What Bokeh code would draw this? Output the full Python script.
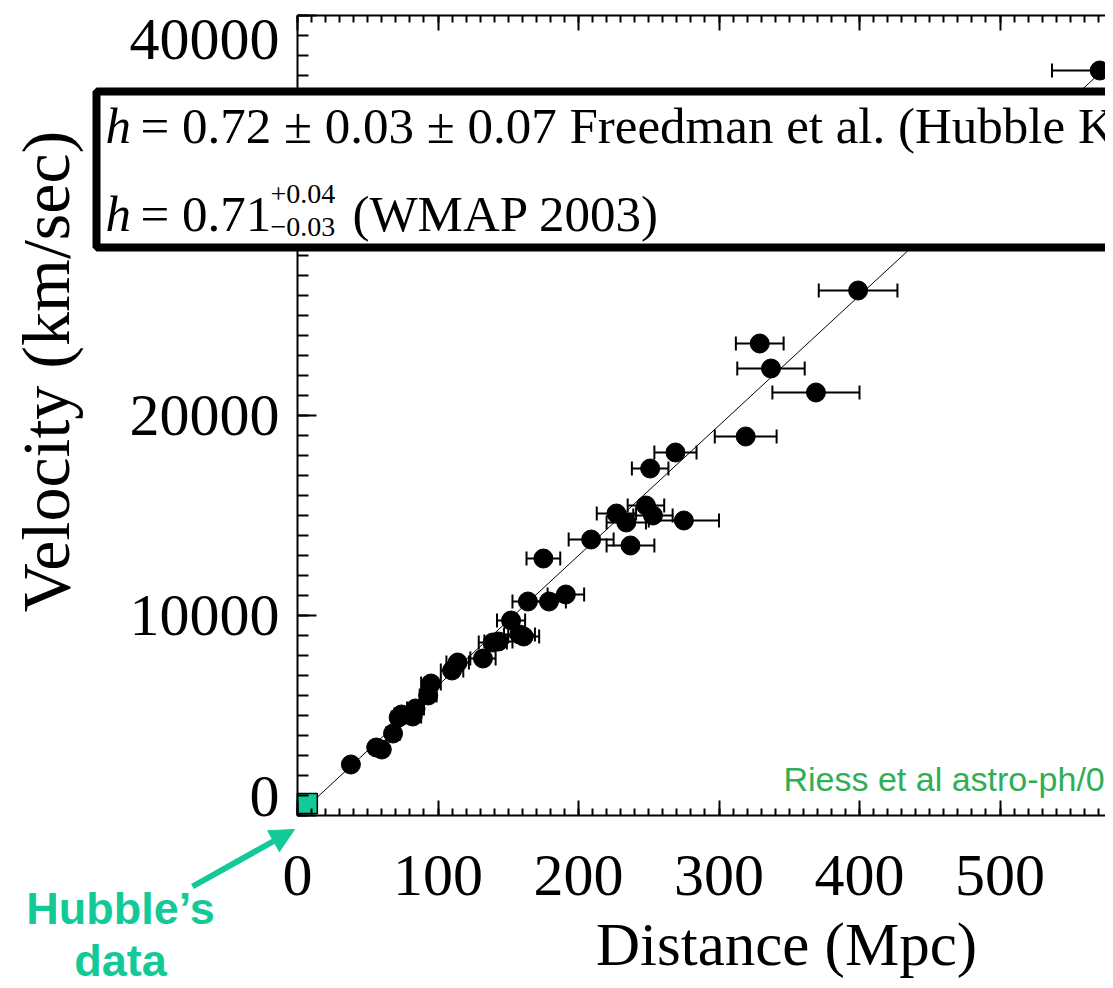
from bokeh.plotting import figure
from bokeh.models import (Range1d, LinearAxis, SingleIntervalTicker, ColumnDataSource,
                          Whisker, TeeHead, BoxAnnotation, Label, Arrow, NormalHead)
from bokeh.embed import file_html
from bokeh.resources import INLINE

# ---------------- data ----------------
dist_mpc = [38, 56, 60, 68, 72, 74, 82, 84, 93, 95, 110, 114, 132, 139, 143, 152, 158, 161,
            164, 175, 179, 191, 209, 227, 234, 237, 248, 253, 275, 251, 269, 319, 329, 337,
            369, 399, 571]
vel_kms = [2550, 3400, 3300, 4100, 4900, 5050, 4950, 5350, 6000, 6600, 7250, 7650, 7850, 8650,
           8700, 9750, 9050, 8950, 10700, 12850, 10700, 11050, 13800, 15100, 14650, 13500,
           15500, 15000, 14750, 17350, 18150, 18950, 23600, 22350, 21150, 26250, 37250]
dist_err = [3, 4, 4, 5, 5, 5, 6, 6, 6, 7, 8, 8, 9, 10, 10, 10, 11, 11, 11, 12, 12, 13, 16, 14,
            14, 17, 13, 14, 25, 13, 15, 22, 17, 24, 31, 28, 34]
hubble_d = [7]
hubble_v = [600]
H0 = 65.0
fit_d = [0, 700]
x_ticks_step = 100
y_ticks_step = 10000
x_axis_max = 1000
y_axis_max = 40000

# ---------------- layout (pixel geometry of the frame) ----------------
W, H = 1105, 980
X0_PX, Y0_PX = 297.0, 815.0      # pixel of the data origin
PX_PER_MPC = 1.405
PX_PER_KMS = 0.02
BASELINE_FIX = 0.33              # rendered baseline sits this many em below the anchor


def dx(px):
    return (px - X0_PX) / PX_PER_MPC


def vy(py):
    return (Y0_PX - py) / PX_PER_KMS


def base(py, size):
    """data y for a label whose visible baseline should be at pixel row py"""
    return vy(py - BASELINE_FIX * size)


SERIF = "Liberation Serif"
SANS = "Liberation Sans"
GREEN = "#14c998"

p = figure(width=W, height=H, output_backend="svg", toolbar_location=None,
           x_range=Range1d(dx(0), dx(W)), y_range=Range1d(vy(H), vy(0)),
           min_border_left=0, min_border_right=0, min_border_top=0, min_border_bottom=0,
           x_axis_type=None, y_axis_type=None)
p.outline_line_color = None
p.xgrid.visible = False
p.ygrid.visible = False
p.background_fill_color = "white"
p.border_fill_color = "white"

xt = SingleIntervalTicker(interval=x_ticks_step, num_minor_ticks=10)
yt = SingleIntervalTicker(interval=y_ticks_step, num_minor_ticks=10)

common = dict(axis_line_width=2, axis_line_color="black", major_tick_out=0, minor_tick_out=0,
              major_tick_line_width=2, minor_tick_line_width=2,
              major_tick_line_color="black", minor_tick_line_color="black")

xaxis = LinearAxis(ticker=xt, fixed_location=0, bounds=(0, x_axis_max),
                   major_tick_in=15, minor_tick_in=7,
                   major_label_text_font=SERIF, major_label_text_font_size="60px",
                   major_label_text_color="black", major_label_standoff=40, **common)
p.add_layout(xaxis, "below")

top_axis = LinearAxis(ticker=xt, fixed_location=y_axis_max, bounds=(0, x_axis_max),
                      major_tick_in=15, minor_tick_in=7,
                      major_label_text_font_size="0px", major_label_standoff=0,
                      major_label_text_color=None, **common)
p.add_layout(top_axis, "above")

yaxis = LinearAxis(ticker=yt, fixed_location=0, bounds=(0, y_axis_max),
                   major_tick_in=19, minor_tick_in=11,
                   major_label_text_font=SERIF, major_label_text_font_size="60px",
                   major_label_text_color="black", major_label_standoff=18,
                   major_label_overrides={0: "", y_axis_max: ""}, **common)
p.add_layout(yaxis, "left")

TICKF = 60
# end labels of the y axis sit inside the range (as in the original)
p.add_layout(Label(x=0, y=base(59, TICKF), x_offset=-18, text=str(y_axis_max),
                   text_align="right", text_baseline="alphabetic", text_font=SERIF,
                   text_font_size=f"{TICKF}px", text_color="black"))
p.add_layout(Label(x=0, y=base(816, TICKF), x_offset=-18, text="0", text_align="right",
                   text_baseline="alphabetic", text_font=SERIF,
                   text_font_size=f"{TICKF}px", text_color="black"))

# axis titles
p.add_layout(Label(x=dx(45), y=vy(371), text="Velocity (km/sec)", angle=90, angle_units="deg",
                   text_align="center", text_baseline="middle", text_font=SERIF,
                   text_font_size="68px", text_color="black"))
p.add_layout(Label(x=dx(786), y=base(964, 61), text="Distance (Mpc)", text_align="center",
                   text_baseline="alphabetic", text_font=SERIF, text_font_size="61px",
                   text_color="black"))

# fit line
p.line(fit_d, [H0 * d for d in fit_d], line_color="black", line_width=1)

src = ColumnDataSource(dict(d=dist_mpc, v=vel_kms,
                            lo=[d - e for d, e in zip(dist_mpc, dist_err)],
                            hi=[d + e for d, e in zip(dist_mpc, dist_err)]))
wh = Whisker(source=src, base="v", lower="lo", upper="hi", dimension="width",
             line_color="black", line_width=2,
             lower_head=TeeHead(size=14, line_width=2, line_color="black"),
             upper_head=TeeHead(size=14, line_width=2, line_color="black"))
p.add_layout(wh)
p.scatter("d", "v", source=src, marker="circle", size=19, fill_color="black",
          line_color="black")

p.scatter(hubble_d, hubble_v, marker="square", size=20, fill_color=GREEN,
          line_color="black", line_width=1.5)

p.add_layout(Label(x=dx(783), y=base(790, 34), text="Riess et al astro-ph/0402512",
                   text_font=SANS, text_font_size="34px", text_color="#2fae55",
                   text_baseline="alphabetic"))

# legend box with h values
p.add_layout(BoxAnnotation(left=dx(96), right=dx(1300), top=vy(91), bottom=vy(247),
                           fill_color="white", fill_alpha=1.0, line_color="black",
                           line_alpha=1.0, line_width=8))
BOXF = 51
SUBF = 28
bf = f"{BOXF}px"
sf = f"{SUBF}px"
p.add_layout(Label(x=dx(105), y=base(142, BOXF), text="h", text_font=SERIF,
                   text_font_style="italic", text_font_size=bf, text_baseline="alphabetic",
                   text_color="black"))
p.add_layout(Label(x=dx(140), y=base(142, BOXF),
                   text="= 0.72 ± 0.03 ± 0.07 Freedman et al. (Hubble Key Project)",
                   text_font=SERIF, text_font_size=bf, text_baseline="alphabetic",
                   text_color="black"))
p.add_layout(Label(x=dx(105), y=base(230, BOXF), text="h", text_font=SERIF,
                   text_font_style="italic", text_font_size=bf, text_baseline="alphabetic",
                   text_color="black"))
p.add_layout(Label(x=dx(140), y=base(230, BOXF), text="= 0.71", text_font=SERIF,
                   text_font_size=bf, text_baseline="alphabetic", text_color="black"))
p.add_layout(Label(x=dx(270), y=base(203, SUBF), text="+0.04", text_font=SERIF,
                   text_font_size=sf, text_baseline="alphabetic", text_color="black"))
p.add_layout(Label(x=dx(270), y=base(236, SUBF), text="\u22120.03", text_font=SERIF,
                   text_font_size=sf, text_baseline="alphabetic", text_color="black"))
p.add_layout(Label(x=dx(352), y=base(230, BOXF), text="(WMAP 2003)", text_font=SERIF,
                   text_font_size=bf, text_baseline="alphabetic", text_color="black"))

# Hubble's data annotation
p.add_layout(Arrow(x_start=dx(192), y_start=vy(886), x_end=dx(294), y_end=vy(829),
                   line_color=GREEN, line_width=6,
                   end=NormalHead(size=24, fill_color=GREEN, line_color=GREEN)))
p.add_layout(Label(x=dx(120), y=base(923, 45), text="Hubble\u2019s", text_align="center",
                   text_font=SANS, text_font_style="bold", text_font_size="45px",
                   text_color=GREEN, text_baseline="alphabetic"))
p.add_layout(Label(x=dx(120), y=base(975, 45), text="data", text_align="center",
                   text_font=SANS, text_font_style="bold", text_font_size="45px",
                   text_color=GREEN, text_baseline="alphabetic"))

open("out.html", "w").write(file_html(p, INLINE))
